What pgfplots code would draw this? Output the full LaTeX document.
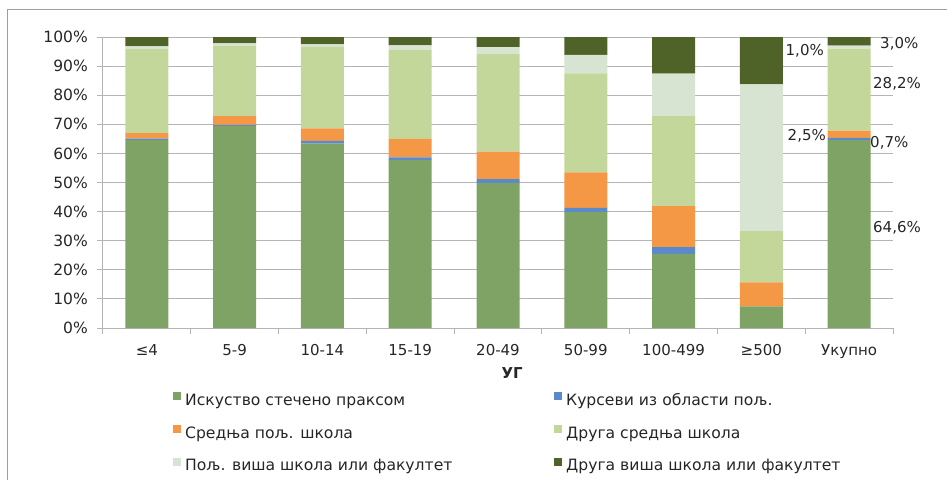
\documentclass[border=0pt]{standalone}
\usepackage{fontspec}
\setmainfont{DejaVu Sans}
\usepackage{pgfplots}
\pgfplotsset{compat=1.18}
\definecolor{cA}{HTML}{7EA364}
\definecolor{cB}{HTML}{5A8ACB}
\definecolor{cC}{HTML}{F59846}
\definecolor{cD}{HTML}{C4D79B}
\definecolor{cE}{HTML}{D8E4D2}
\definecolor{cF}{HTML}{4F6228}
\definecolor{gridc}{HTML}{B4B4B4}
\tikzset{dlab/.style={font=\fontsize{15}{18}\selectfont, inner sep=0pt, text=black!85}}
\begin{document}
\begin{tikzpicture}
\path[use as bounding box] (-103pt,-152pt) rectangle (844pt,328pt);
\draw[gray!75, line width=1pt] (-95pt,-152pt) -- (-95pt,318pt) -- (844pt,318pt);
\begin{axis}[
  scale only axis, width=790pt, height=291pt,
  ybar stacked, bar width=43pt,
  xmin=-0.5, xmax=8.5, ymin=0, ymax=100,
  axis x line*=bottom, axis y line*=left,
  axis line style={draw=gridc, line width=1pt},
  xtick={-0.5,0.5,1.5,2.5,3.5,4.5,5.5,6.5,7.5,8.5},
  xticklabels={},
  extra x ticks={0,1,2,3,4,5,6,7,8},
  extra x tick labels={≤4,5-9,10-14,15-19,20-49,50-99,100-499,≥500,Укупно},
  extra x tick style={major tick length=0pt, grid=none,
    xticklabel style={anchor=base, yshift=-27pt, font=\fontsize{15}{18}\selectfont, text=black!85}},
  ytick={0,10,20,30,40,50,60,70,80,90,100},
  yticklabels={0\%,10\%,20\%,30\%,40\%,50\%,60\%,70\%,80\%,90\%,100\%},
  yticklabel style={anchor=east, inner sep=0pt, xshift=-9pt, font=\fontsize{15.5}{18}\selectfont, text=black!85},
  tick style={draw=gridc, line width=1pt},
  major tick length=6pt,
  tick align=outside,
  ymajorgrids, grid style={draw=gridc, line width=1pt},
  xlabel={УГ},
  xlabel style={at={(axis description cs:0.518,-0.155)}, anchor=center, font=\fontsize{15}{18}\selectfont\bfseries, text=black!85},
  legend columns=2,
  legend cell align=left,
  legend image code/.code={\draw[#1,draw=none] (0pt,1.5pt) rectangle (8pt,9.5pt);},
  legend style={at={(axis description cs:0.0848,-0.213)}, anchor=north west, draw=none, fill=none,
    font=\fontsize{15.6}{18}\selectfont, text=black!85, row sep=14pt, column sep=0pt,
    nodes={inner xsep=4pt, inner ysep=2pt, text height=11pt, text depth=3.5pt}},
  clip=false,
]
\addplot[fill=cA, draw=none] coordinates {(0,64.6) (1,69.4) (2,63.4) (3,57.7) (4,49.9) (5,39.9) (6,25.5) (7,7.4) (8,64.6)};
\addlegendentry{\hbox to 365pt{Искуство стечено праксом\hfil}}
\addplot[fill=cB, draw=none] coordinates {(0,0.5) (1,0.4) (2,0.9) (3,0.9) (4,1.3) (5,1.4) (6,2.3) (7,0.0) (8,0.7)};
\addlegendentry{Курсеви из области пољ.}
\addplot[fill=cC, draw=none] coordinates {(0,1.9) (1,3.0) (2,4.3) (3,6.4) (4,9.4) (5,12.2) (6,14.1) (7,8.3) (8,2.5)};
\addlegendentry{\hbox to 365pt{Средња пољ. школа\hfil}}
\addplot[fill=cD, draw=none] coordinates {(0,28.8) (1,24.1) (2,28.0) (3,30.5) (4,33.5) (5,34.0) (6,30.9) (7,17.6) (8,28.2)};
\addlegendentry{Друга средња школа}
\addplot[fill=cE, draw=none] coordinates {(0,1.0) (1,0.9) (2,0.9) (3,1.6) (4,2.4) (5,6.4) (6,14.6) (7,50.4) (8,1.0)};
\addlegendentry{\hbox to 365pt{Пољ. виша школа или факултет\hfil}}
\addplot[fill=cF, draw=none] coordinates {(0,3.2) (1,2.2) (2,2.5) (3,2.9) (4,3.5) (5,6.1) (6,12.6) (7,16.3) (8,3.0)};
\addlegendentry{Друга виша школа или факултет}
\node[dlab, anchor=west] at (axis cs:8.352,97.6) {3,0\%};
\node[dlab, anchor=east] at (axis cs:7.714,95.2) {1,0\%};
\node[dlab, anchor=west] at (axis cs:8.272,83.8) {28,2\%};
\node[dlab, anchor=east] at (axis cs:7.737,66.0) {2,5\%};
\node[dlab, anchor=west] at (axis cs:8.238,63.6) {0,7\%};
\node[dlab, anchor=west] at (axis cs:8.272,34.4) {64,6\%};
\end{axis}
\end{tikzpicture}
\end{document}
